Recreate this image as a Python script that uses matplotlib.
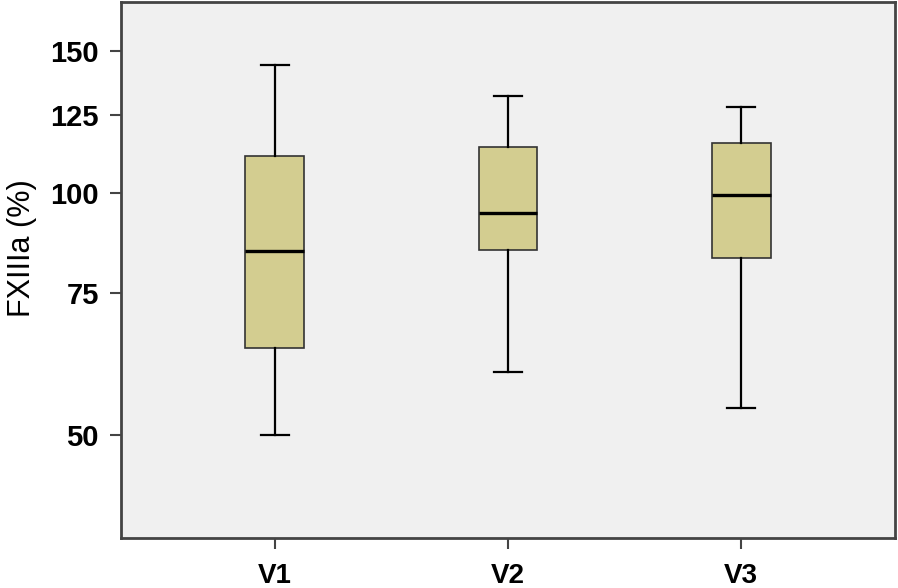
import matplotlib.pyplot as plt
from matplotlib.ticker import FixedLocator, NullLocator

# FXIIIa (%) box-plot summary per visit
labels = ["V1", "V2", "V3"]
whisker_low = [50.0, 59.9, 54.0]
q1 = [64.1, 84.8, 82.9]
median = [84.7, 94.4, 99.3]
q3 = [111.1, 114.1, 115.4]
whisker_high = [144.1, 132.0, 127.9]
yticks = [50, 75, 100, 125, 150]

plt.rcParams["font.family"] = ["Liberation Sans", "DejaVu Sans"]

stats = []
for i, lab in enumerate(labels):
    stats.append({
        "label": lab,
        "whislo": whisker_low[i],
        "q1": q1[i],
        "med": median[i],
        "q3": q3[i],
        "whishi": whisker_high[i],
        "fliers": [],
    })

fig = plt.figure(figsize=(8.98, 5.88), dpi=100)
ax = fig.add_axes([121 / 898, 1 - 538 / 588, (895 - 121) / 898, (538 - 2) / 588])
ax.set_facecolor("#f0f0f0")

ax.bxp(
    stats,
    positions=[1, 2, 3],
    widths=0.253,
    patch_artist=True,
    showfliers=False,
    boxprops=dict(facecolor="#d3cd90", edgecolor="#333333", linewidth=1.2),
    medianprops=dict(color="black", linewidth=2.4),
    whiskerprops=dict(color="black", linewidth=1.6),
    capprops=dict(color="black", linewidth=1.6),
    capwidths=0.12,
)

ax.set_yscale("log")
ax.set_ylim(37.2, 172.6)
ax.set_xlim(0.34, 3.66)
ax.yaxis.set_major_locator(FixedLocator(yticks))
ax.yaxis.set_minor_locator(NullLocator())
ax.set_yticklabels([str(t) for t in yticks])
ax.set_xticks([1, 2, 3])
ax.set_xticklabels(labels)

ax.tick_params(axis="both", length=8, width=1.5, color="#444444", labelsize=21)
ax.tick_params(axis="y", pad=8)
ax.tick_params(axis="x", labelsize=20, pad=10)
for t in ax.get_xticklabels() + ax.get_yticklabels():
    t.set_fontweight("bold")

for s in ax.spines.values():
    s.set_color("#444444")
    s.set_linewidth(2)

ax.set_ylabel("FXIIIa (%)", fontsize=22)
ax.yaxis.set_label_coords(-0.108, 0.54)

fig.savefig("out.png", dpi=100)
plt.close(fig)
